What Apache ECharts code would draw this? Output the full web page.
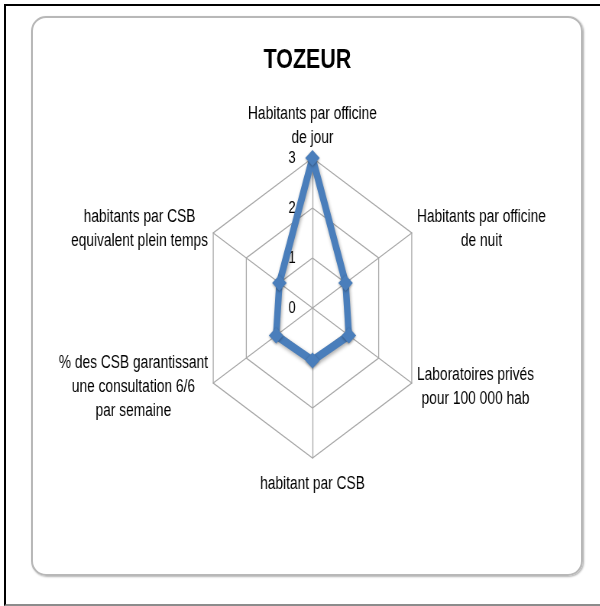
<!DOCTYPE html>
<html><head><meta charset="utf-8">
<script src="https://cdn.jsdelivr.net/npm/echarts@6/dist/echarts.min.js"></script>
<style>
html,body{margin:0;padding:0;background:#fff;width:600px;height:606px;overflow:hidden;}
#frame{position:absolute;left:4px;top:4px;width:620px;height:598px;border-left:2px solid #000;border-top:2px solid #000;border-bottom:2px solid #8c8c8c;}
#card{position:absolute;left:31px;top:16px;width:548px;height:556px;border:2px solid #b8b8b8;border-radius:15px;box-shadow:1px 1px 2px rgba(0,0,0,0.3);}
#chart{position:absolute;left:0;top:0;width:785px;height:606px;transform:scaleX(0.764);transform-origin:0 0;}
</style></head>
<body><div id="frame"></div><div id="card"></div><div id="chart"></div>
<script>
const chartTitle = 'TOZEUR';
// categories listed clockwise from the top, as in the reference
const indicatorNames = [
  'Habitants par officine\nde jour',
  'Habitants par officine\nde nuit',
  'Laboratoires privés\npour 100 000 hab',
  'habitant par CSB',
  '% des CSB garantissant\nune consultation 6/6\npar semaine',
  'habitants par CSB\nequivalent plein temps'
];
const seriesValues = [3, 1, 1.1, 1.05, 1.1, 1];
const axisMax = 3;
const tickLabels = ['0', '1', '2', '3'];

// ECharts lays radar indicators counter-clockwise: reverse all but the first
const order = [0].concat(indicatorNames.map((_, i) => i).slice(1).reverse());

const CX = 409, CY = 308, R = 150;
const FONT = '"Liberation Sans", Arial, sans-serif';

const chart = echarts.init(document.getElementById('chart'), null, {renderer: 'canvas'});
chart.setOption({
  animation: false,
  backgroundColor: 'transparent',
  title: {
    text: chartTitle,
    left: 340, top: 41,
    textStyle: {fontFamily: FONT, fontSize: 28, fontWeight: 'bold', color: '#000'}
  },
  radar: {
    center: [CX, CY],
    radius: R,
    startAngle: 90,
    shape: 'polygon',
    splitNumber: 3,
    nameGap: 8,
    indicator: order.map(i => ({name: indicatorNames[i], min: 0, max: axisMax})),
    axisName: {
      color: '#000',
      fontFamily: FONT,
      fontSize: 18,
      lineHeight: 24,
      formatter: function (name) {
        const body = name.split('\n').map(l => '{c|' + l + '}').join('\n');
        // the bottom label sits a little further from the chart
        return name.indexOf('\n') < 0 ? '{g| }\n' + body : body;
      },
      rich: {
        c: {align: 'center', fontFamily: FONT, fontSize: 18, lineHeight: 24, color: '#000'},
        g: {fontSize: 6, lineHeight: 6}
      }
    },
    axisLine: {lineStyle: {color: '#a8a8a8', width: 1.3}},
    splitLine: {lineStyle: {color: '#a8a8a8', width: 1.3}},
    splitArea: {show: false},
    axisTick: {show: false},
    axisLabel: {show: false}
  },
  grid: {left: CX, top: CY - R, height: R, width: 1, containLabel: false},
  xAxis: {type: 'value', show: false},
  yAxis: {
    type: 'value', min: 0, max: axisMax, interval: 1,
    axisLine: {show: false}, axisTick: {show: false}, splitLine: {show: false},
    axisLabel: {margin: 22, fontFamily: FONT, fontSize: 17, color: '#000',
      formatter: v => tickLabels[v]}
  },
  series: [{
    type: 'radar',
    symbol: 'diamond',
    symbolSize: [19, 16],
    lineStyle: {color: '#4a7ebb', width: 8.5, shadowColor: 'rgba(0,0,0,0.35)', shadowBlur: 4, shadowOffsetX: 1, shadowOffsetY: 2},
    itemStyle: {color: '#4a7ebb', shadowColor: 'rgba(0,0,0,0.35)', shadowBlur: 3, shadowOffsetY: 1},
    data: [{value: order.map(i => seriesValues[i]), name: chartTitle}]
  }]
});
</script>
</body></html>
